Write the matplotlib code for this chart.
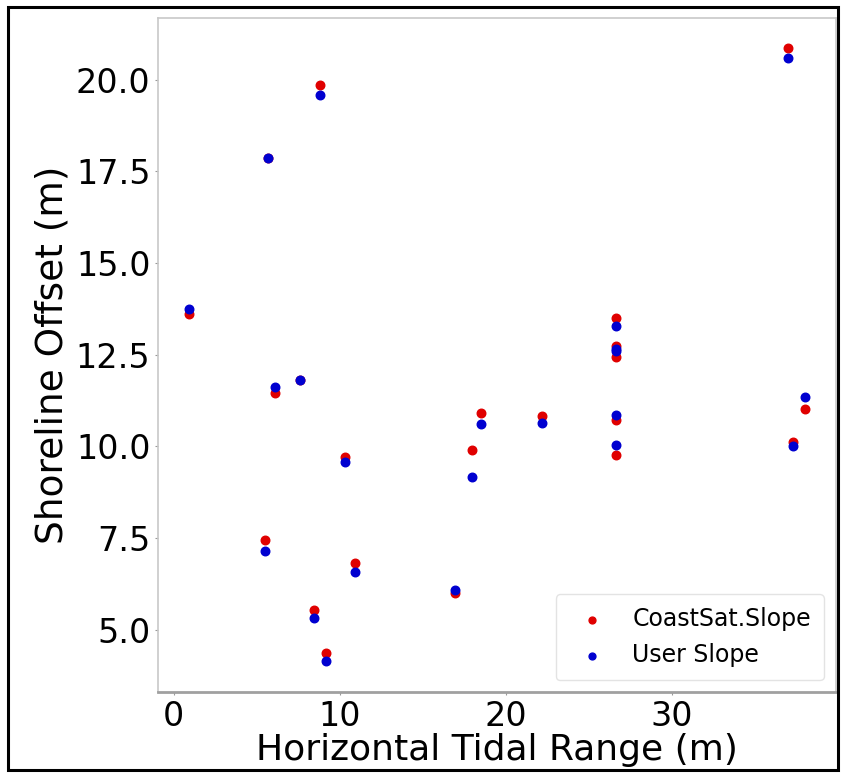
import matplotlib
matplotlib.use("Agg")
import matplotlib.pyplot as plt
from matplotlib.patches import Rectangle

# horizontal tidal range (m) for each site
tidal_range = [0.9, 5.47, 5.66, 6.07, 7.59, 8.45, 8.81, 9.17, 10.31, 10.93,
               16.92, 17.98, 18.48, 22.18,
               26.63, 26.63, 26.63, 26.63, 26.63,
               37.0, 37.3, 38.0]
# shoreline offset (m) with CoastSat.Slope beach slope
offset_coastsat = [13.62, 7.46, 17.87, 11.47, 11.81, 5.55, 19.85, 4.38, 9.71, 6.83,
                   6.01, 9.91, 10.91, 10.82,
                   13.51, 12.75, 12.44, 10.72, 9.76,
                   20.85, 10.12, 11.01]
# shoreline offset (m) with user-defined slope
offset_user = [13.76, 7.16, 17.87, 11.63, 11.81, 5.33, 19.57, 4.14, 9.57, 6.59,
               6.10, 9.16, 10.62, 10.64,
               13.28, 12.65, 12.60, 10.85, 10.04,
               20.58, 10.02, 11.35]

fig = plt.figure(figsize=(8.45, 7.75), dpi=100)
ax = fig.add_axes([0.187, 0.107, 0.802, 0.870])

ax.scatter(tidal_range, offset_coastsat, s=38, color="#e00000", label="CoastSat.Slope")
ax.scatter(tidal_range, offset_user, s=38, color="#0000d0", label="User Slope")

ax.set_xticks([0, 10, 20, 30])
ax.set_yticks([5.0, 7.5, 10.0, 12.5, 15.0, 17.5, 20.0])
ax.tick_params(labelsize=24, length=2.5, width=0.8, color="#999999", pad=3)
ax.set_xlabel("Horizontal Tidal Range (m)", fontsize=26, labelpad=0)
ax.set_ylabel("Shoreline Offset (m)", fontsize=27, labelpad=4)

for sp in ax.spines.values():
    sp.set_color("#c8c8c8")
    sp.set_linewidth(1.2)
ax.spines["bottom"].set_color("#a0a0a0")
ax.spines["bottom"].set_linewidth(2)

leg = ax.legend(loc="lower right", fontsize=17, markerscale=0.8,
                frameon=True, handletextpad=0.7, borderpad=0.55)
leg.get_frame().set_edgecolor("#dddddd")

# outer black frame around the whole picture
fig.patches.append(Rectangle((0.0095, 0.0065), 0.982, 0.9845, transform=fig.transFigure,
                             fill=False, edgecolor="black", linewidth=2.2))

fig.savefig("out.png", dpi=100)
